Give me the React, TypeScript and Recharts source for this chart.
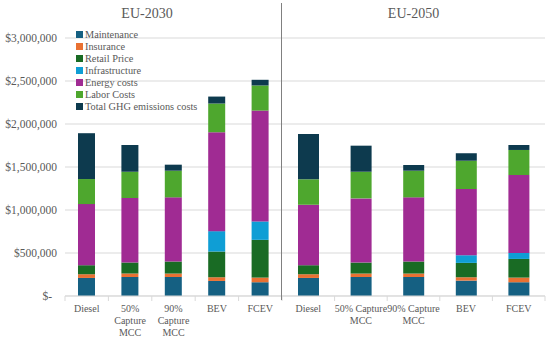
import React from 'react';
import { BarChart, Bar, XAxis, YAxis, CartesianGrid } from 'recharts';

const categories = ['Diesel', '50% Capture MCC', '90% Capture MCC', 'BEV', 'FCEV'];
const tickLines2030 = [['Diesel'], ['50%', 'Capture', 'MCC'], ['90%', 'Capture', 'MCC'], ['BEV'], ['FCEV']];
const tickLines2050 = [['Diesel'], ['50% Capture', 'MCC'], ['90% Capture', 'MCC'], ['BEV'], ['FCEV']];
const yTicks = [0, 500000, 1000000, 1500000, 2000000, 2500000, 3000000];

const maintenance2030 = [210000, 221000, 221000, 175000, 160000];
const insurance2030 = [43000, 40000, 40000, 43000, 54000];
const retail2030 = [105000, 128000, 140000, 299000, 439000];
const infra2030 = [0, 0, 0, 237000, 214000];
const energy2030 = [711000, 750000, 746000, 1150000, 1289000];
const labor2030 = [291000, 306000, 310000, 334000, 292000];
const ghg2030 = [533000, 311000, 70000, 81000, 66000];

const maintenance2050 = [210000, 221000, 221000, 179000, 160000];
const insurance2050 = [43000, 40000, 40000, 39000, 54000];
const retail2050 = [105000, 128000, 140000, 167000, 217000];
const infra2050 = [0, 0, 0, 89000, 70000];
const energy2050 = [703000, 746000, 746000, 770000, 906000];
const labor2050 = [296000, 310000, 310000, 329000, 291000];
const ghg2050 = [528000, 303000, 66000, 87000, 58000];

const series = [
  { key: 'maintenance', name: 'Maintenance', color: '#156082' },
  { key: 'insurance', name: 'Insurance', color: '#E97132' },
  { key: 'retail', name: 'Retail Price', color: '#196B24' },
  { key: 'infra', name: 'Infrastructure', color: '#0F9ED5' },
  { key: 'energy', name: 'Energy costs', color: '#A02B93' },
  { key: 'labor', name: 'Labor Costs', color: '#4EA72E' },
  { key: 'ghg', name: 'Total GHG emissions costs', color: '#0D3A4E' },
];

const build = (m: number[], i: number[], r: number[], f: number[], e: number[], l: number[], g: number[]) =>
  categories.map((c, k) => ({
    name: c,
    maintenance: m[k],
    insurance: i[k],
    retail: r[k],
    infra: f[k],
    energy: e[k],
    labor: l[k],
    ghg: g[k],
  }));

const data2030 = build(maintenance2030, insurance2030, retail2030, infra2030, energy2030, labor2030, ghg2030);
const data2050 = build(maintenance2050, insurance2050, retail2050, infra2050, energy2050, labor2050, ghg2050);

const FONT = "'Liberation Serif', 'DejaVu Serif', serif";
const TEXT = '#595959';
const GRID = '#d9d9d9';

const fmt = (v: number) => (v === 0 ? '$-' : '$' + v.toLocaleString('en-US'));

const YTick = (props: any) => {
  const { x, y, payload } = props;
  const v = payload.value;
  return (
    <text x={v === 0 ? x - 5 : x} y={y} dy={4} textAnchor="end" fill={TEXT} fontSize={11.5} style={{ fontFamily: FONT }}>
      {fmt(v)}
    </text>
  );
};

const makeXTick = (lines: string[][], bw: number) => (props: any) => {
  const { x, y, payload } = props;
  const idx = categories.indexOf(payload.value);
  const ls = lines[idx] || [payload.value];
  return (
    <g>
      <line x1={x - bw / 2} x2={x - bw / 2} y1={y} y2={y + 5} stroke={GRID} />
      {idx === categories.length - 1 && <line x1={x + bw / 2} x2={x + bw / 2} y1={y} y2={y + 5} stroke={GRID} />}
      {ls.map((t, k) => (
        <text key={k} x={x} y={y + 16 + k * 12} textAnchor="middle" fill={TEXT} fontSize={10} style={{ fontFamily: FONT }}>
          {t}
        </text>
      ))}
    </g>
  );
};

const XTick2030 = makeXTick(tickLines2030, 217 / 5);
const XTick2050 = makeXTick(tickLines2050, 263 / 5);

export default function App() {
  return (
    <div style={{ position: 'absolute', left: 0, top: 0, width: 550, height: 340, background: '#fff', fontFamily: FONT }}>
      <div style={{ position: 'absolute', left: 0, top: 0 }}>
        <BarChart width={282} height={340} data={data2030} margin={{ top: 38, right: 0, left: 8, bottom: 4 }} barSize={17}>
          <CartesianGrid vertical={false} stroke={GRID} />
          <XAxis
            dataKey="name"
            height={40}
            interval={0}
            axisLine={{ stroke: GRID }}
            tickLine={false}
            tickSize={0}
            tickMargin={0}
            tick={<XTick2030 />}
          />
          <YAxis
            width={57}
            domain={[0, 3000000]}
            ticks={yTicks}
            axisLine={false}
            tickLine={false}
            tickSize={0}
            tickMargin={8}
            tick={<YTick />}
          />
          {series.map((s) => (
            <Bar key={s.key} dataKey={s.key} name={s.name} stackId="a" fill={s.color} isAnimationActive={false} />
          ))}
        </BarChart>
      </div>
      <div style={{ position: 'absolute', left: 282, top: 0 }}>
        <BarChart width={268} height={340} data={data2050} margin={{ top: 38, right: 5, left: 0, bottom: 4 }} barSize={21}>
          <CartesianGrid vertical={false} stroke={GRID} />
          <XAxis
            dataKey="name"
            height={40}
            interval={0}
            axisLine={{ stroke: GRID }}
            tickLine={false}
            tickSize={0}
            tickMargin={0}
            tick={<XTick2050 />}
          />
          <YAxis hide domain={[0, 3000000]} ticks={yTicks} />
          {series.map((s) => (
            <Bar key={s.key} dataKey={s.key} name={s.name} stackId="a" fill={s.color} isAnimationActive={false} />
          ))}
        </BarChart>
      </div>
      <div style={{ position: 'absolute', left: 281, top: 3, width: 1, height: 297, background: '#808080' }} />
      <div style={{ position: 'absolute', left: 0, width: 294, top: 4, textAlign: 'center', fontSize: 14, color: TEXT, lineHeight: '20px' }}>
        EU-2030
      </div>
      <div style={{ position: 'absolute', left: 282, width: 263, top: 4, textAlign: 'center', fontSize: 14, color: TEXT, lineHeight: '20px' }}>
        EU-2050
      </div>
      <div style={{ position: 'absolute', left: 76, top: 28 }}>
        {series.map((s) => (
          <div key={s.key} style={{ display: 'flex', alignItems: 'center', height: 12.07, fontSize: 10.3, color: TEXT, whiteSpace: 'nowrap' }}>
            <span style={{ display: 'inline-block', width: 7, height: 7, background: s.color, marginRight: 2 }} />
            <span>{s.name}</span>
          </div>
        ))}
      </div>
    </div>
  );
}
